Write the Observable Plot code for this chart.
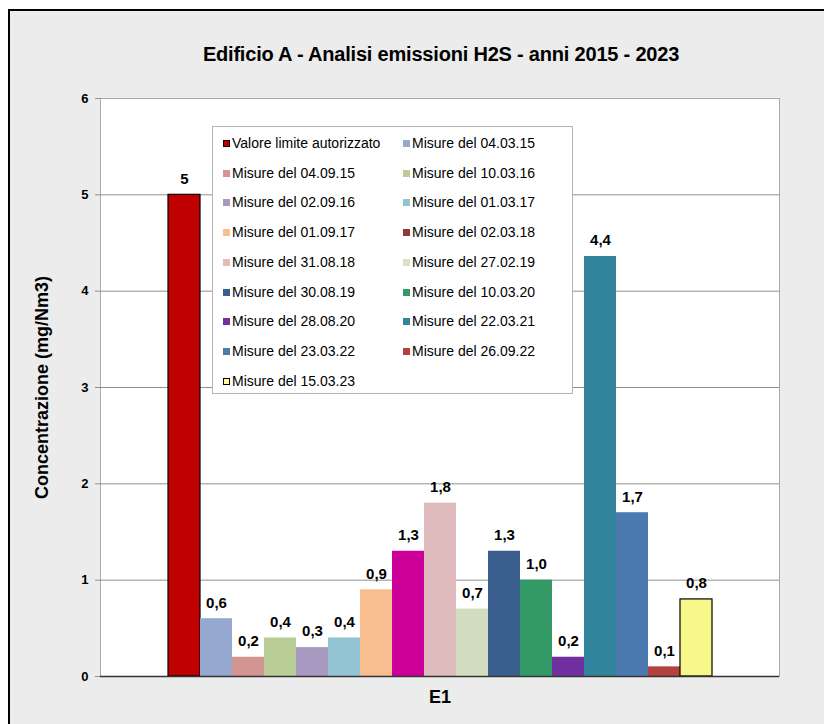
<!DOCTYPE html>
<html>
<head>
<meta charset="utf-8">
<script src="https://cdn.jsdelivr.net/npm/d3@7"></script>
<script src="https://cdn.jsdelivr.net/npm/@observablehq/plot@0.6"></script>
<style>
  html, body { margin: 0; padding: 0; width: 824px; height: 724px; overflow: hidden; background: #ffffff; }
  #frame { position: absolute; left: 8px; top: 9px; width: 840px; height: 740px; border: 2px solid #000; background: #ececec; }
  #title { position: absolute; left: 0; width: 882px; top: 43px; text-align: center; font: bold 20px "Liberation Sans", Arial, sans-serif; color: #000; letter-spacing: -0.2px; }
  #chart { position: absolute; left: 0; top: 0; }
  #legend { position: absolute; left: 212px; top: 126px; width: 359px; height: 266px; background: #fff; border: 1px solid #b4b4b4; font: 14px "Liberation Sans", Arial, sans-serif; color: #000; }
  .item { position: absolute; height: 16px; line-height: 16px; white-space: nowrap; }
  .sw { display: inline-block; width: 7px; height: 7px; margin-right: 2px; vertical-align: 1px; box-sizing: border-box; }
</style>
</head>
<body>
<div id="frame"></div>
<div id="title">Edificio A - Analisi emissioni H2S - anni 2015 - 2023</div>
<div id="chart"></div>
<div id="legend"></div>
<script>
// ---- data ----
const categories = ["E1"];
const series = [
  "Valore limite autorizzato",
  "Misure del 04.03.15",
  "Misure del 04.09.15",
  "Misure del 10.03.16",
  "Misure del 02.09.16",
  "Misure del 01.03.17",
  "Misure del 01.09.17",
  "Misure del 02.03.18",
  "Misure del 31.08.18",
  "Misure del 27.02.19",
  "Misure del 30.08.19",
  "Misure del 10.03.20",
  "Misure del 28.08.20",
  "Misure del 22.03.21",
  "Misure del 23.03.22",
  "Misure del 26.09.22",
  "Misure del 15.03.23"
];
const values = [5, 0.6, 0.2, 0.4, 0.3, 0.4, 0.9, 1.3, 1.8, 0.7, 1.3, 1.0, 0.2, 4.36, 1.7, 0.1, 0.8];
const valueLabels = ["5", "0,6", "0,2", "0,4", "0,3", "0,4", "0,9", "1,3", "1,8", "0,7", "1,3", "1,0", "0,2", "4,4", "1,7", "0,1", "0,8"];
const yTicks = [0, 1, 2, 3, 4, 5, 6];
const yLabel = "Concentrazione (mg/Nm3)";

// ---- styles ----
const barColors = ["#C00000", "#95A9D0", "#D49591", "#B9CD96", "#A899C0", "#93C4D3", "#F9BE8F", "#CC0099",
  "#E0BBBD", "#D2DDC0", "#3A5F8E", "#339966", "#7030A0", "#31849B", "#4A7AB0", "#B3413F", "#F8F88A"];
const legendColors = ["#C00000", "#95A9D0", "#D49591", "#B9CD96", "#A899C0", "#93C4D3", "#F9BE8F", "#953735",
  "#E6B9B8", "#D7E4BD", "#376092", "#339966", "#7030A0", "#31849B", "#4A7AB0", "#B3413F", "#FFFF99"];
const outlined = new Set(["Valore limite autorizzato", "Misure del 15.03.23"]);

const rows = series.map((s, i) => ({
  category: categories[0], series: s, value: values[i], label: valueLabels[i],
  fill: barColors[i], stroke: outlined.has(s) ? "#000" : "none"
}));

const font = "'Liberation Sans', Arial, sans-serif";

const chart = Plot.plot({
  width: 824,
  height: 724,
  marginTop: 98,
  marginBottom: 48,
  marginLeft: 100,
  marginRight: 45,
  style: { background: "transparent", fontFamily: font, color: "#000", overflow: "visible" },
  fx: { domain: categories, paddingInner: 0, paddingOuter: 0, label: null },
  x: { domain: series, paddingInner: 0, paddingOuter: 2.01, axis: null },
  y: { domain: [0, 6], ticks: yTicks, label: null },
  marks: [
    Plot.frame({ fill: "#fff", stroke: "#a8a8a8" }),
    Plot.gridY(yTicks.slice(1, -1), { stroke: "#8f8f8f", strokeOpacity: 1 }),
    Plot.barY(rows, { fx: "category", x: "series", y: "value", fill: "fill", stroke: "stroke", strokeWidth: 1.2, inset: 0 }),
    Plot.ruleY([0], { stroke: "#333", strokeWidth: 1.5 }),
    Plot.text(rows, { fx: "category", x: "series", y: "value", text: "label", dy: -16, fontSize: 15, fontWeight: "bold", fill: "#000" }),
    Plot.axisY(yTicks, { anchor: "left", tickSize: 5, tickPadding: 7, stroke: "#8f8f8f", fontSize: 13, fontWeight: "bold", label: null, tickFormat: d => String(d) }),
    Plot.axisFx({ anchor: "bottom", tickSize: 0, tickPadding: 14, fontSize: 18, fontWeight: "bold", label: null }),
    Plot.text([yLabel], { frameAnchor: "left", textAnchor: "middle", rotate: -90, dx: -58, fontSize: 18, fontWeight: "bold", fill: "#000" })
  ]
});
document.getElementById("chart").appendChild(chart);

// ---- legend ----
const legend = document.getElementById("legend");
series.forEach((s, i) => {
  const r = Math.floor(i / 2), c = i % 2;
  const item = document.createElement("div");
  item.className = "item";
  item.style.left = (c === 0 ? 10 : 190) + "px";
  item.style.top = (8 + r * 29.7) + "px";
  const sw = document.createElement("span");
  sw.className = "sw";
  sw.style.background = legendColors[i];
  if (outlined.has(s)) sw.style.border = "1px solid #000";
  item.appendChild(sw);
  item.appendChild(document.createTextNode(s));
  legend.appendChild(item);
});
</script>
</body>
</html>
